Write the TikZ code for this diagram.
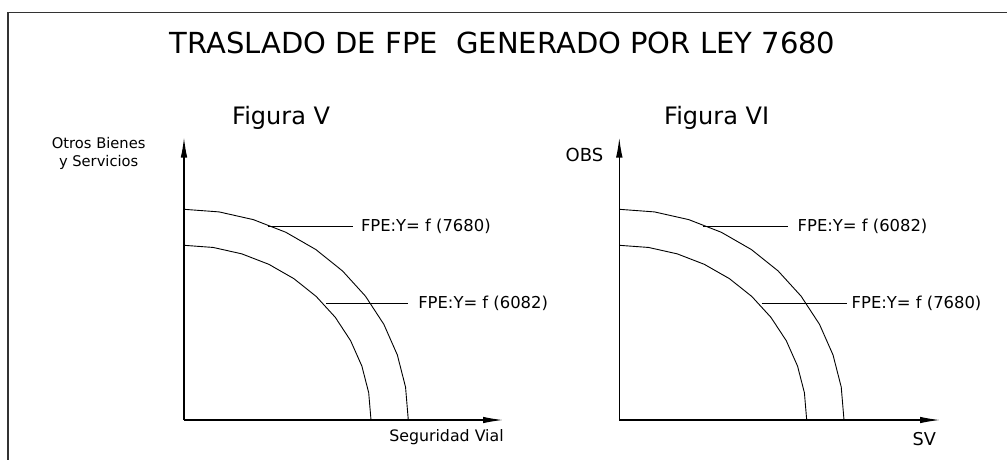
\documentclass[tikz,border=0pt]{standalone}
\usepackage{fontspec}
\setmainfont{DejaVu Sans}
\usetikzlibrary{arrows.meta}
\begin{document}
\begin{tikzpicture}[x=1pt,y=-1pt,
  frameline/.style={line width=1.6pt,draw=black!80},
  axisline/.style={line width=1.2pt,-{Latex[length=20pt,width=6.5pt]}},
  curveline/.style={line width=0.9pt,line join=round},
  leader/.style={line width=0.9pt},
  small/.style={inner sep=0pt,outer sep=0pt,font=\fontsize{14.7}{17.5}\selectfont},
  fpelabel/.style={inner sep=0pt,outer sep=0pt,font=\fontsize{16.4}{19}\selectfont},
  figtitle/.style={inner sep=0pt,font=\fontsize{24}{28}\selectfont},
  maintitle/.style={inner sep=0pt,font=\fontsize{29}{34}\selectfont}]
\useasboundingbox (0,0) rectangle (1007,459);
% frame (top and left edges)
\coordinate (fr1) at (8,12.5);
\coordinate (fr0) at (8,460);
\coordinate (fr2) at (1008,12.5);
\draw[frameline] (fr0) -- (fr1) -- (fr2);
% title
\node[maintitle,anchor=base west] (title) at (169.5,53.3) {TRASLADO DE FPE\ \ GENERADO POR LEY 7680};
% ---------- Figura V ----------
\node[figtitle,anchor=base west] (figV) at (232,124.3) {Figura V};
\coordinate (o5) at (184,420);
\coordinate (y5) at (184,137.5);
\coordinate (x5) at (503,420);
\draw[axisline] (o5) -- (y5);
\draw[axisline] (o5) -- (x5);
\draw[curveline] plot[domain=90:0,samples=11] ({184+224.3*cos(\x)},{420-210.7*sin(\x)});
\draw[curveline] plot[domain=90:0,samples=11] ({184+187*cos(\x)},{420-174.7*sin(\x)});
\node[small,align=center] (ylab5) at (98.7,153.5) {Otros Bienes\\y Servicios};
\node[small,anchor=base west,font=\fontsize{15.8}{19}\selectfont] (xlab5) at (389.3,441.5) {Seguridad Vial};
\node[fpelabel,anchor=base west] (l5a) at (361,231.6) {FPE:Y= f (7680)};
\node[fpelabel,anchor=base west] (l5b) at (418.3,308.9) {FPE:Y= f (6082)};
\coordinate (c5a) at (268.3,226);
\coordinate (c5b) at (326,303.3);
\draw[leader,shorten >=8.3pt] (c5a) -- (c5a -| l5a.west);
\draw[leader,shorten >=10pt] (c5b) -- (c5b -| l5b.west);
% ---------- Figura VI ----------
\node[figtitle,anchor=base west] (figVI) at (664,124.3) {Figura VI};
\coordinate (o6) at (619.3,420);
\coordinate (y6) at (619.3,137.5);
\coordinate (x6) at (940,420);
\draw[axisline] (o6) -- (y6);
\draw[axisline] (o6) -- (x6);
\draw[curveline] plot[domain=90:0,samples=11] ({619.3+224.7*cos(\x)},{420-210.7*sin(\x)});
\draw[curveline] plot[domain=90:0,samples=11] ({619.3+187.4*cos(\x)},{420-174.7*sin(\x)});
\node[small,anchor=base west,font=\fontsize{18}{21}\selectfont] (ylab6) at (565.7,161.7) {OBS};
\node[small,anchor=base west,font=\fontsize{17.7}{21}\selectfont] (xlab6) at (912.7,445) {SV};
\node[fpelabel,anchor=base west] (l6a) at (797.7,231.6) {FPE:Y= f (6082)};
\node[fpelabel,anchor=base west] (l6b) at (851.7,308.9) {FPE:Y= f (7680)};
\coordinate (c6a) at (703.3,226);
\coordinate (c6b) at (761.7,303.3);
\draw[leader,shorten >=9.4pt] (c6a) -- (c6a -| l6a.west);
\draw[leader,shorten >=5pt] (c6b) -- (c6b -| l6b.west);
\end{tikzpicture}
\end{document}
